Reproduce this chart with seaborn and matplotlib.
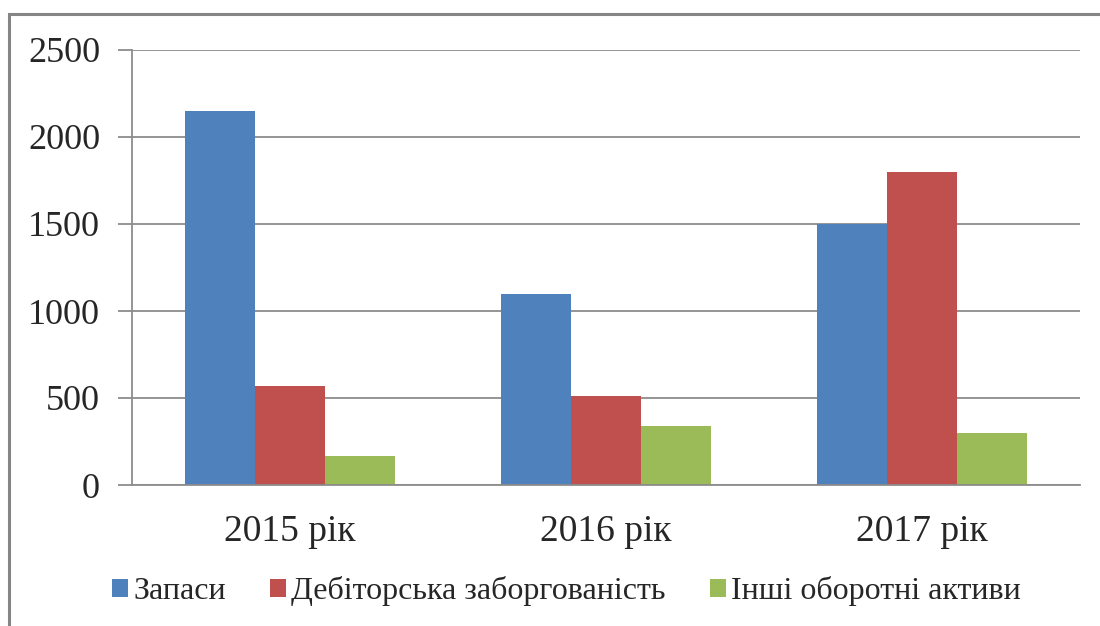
import pandas as pd
import matplotlib.pyplot as plt
import seaborn as sns
from matplotlib.patches import Patch, Rectangle

years = ['2015 рік', '2016 рік', '2017 рік']
series = ['Запаси', 'Дебіторська заборгованість', 'Інші оборотні активи']
zapasy = [2150, 1100, 1500]
debitorska = [570, 510, 1800]
inshi = [165, 340, 300]
colors = ['#4F81BD', '#C0504D', '#9BBB59']

df = pd.DataFrame({
    'year': years * 3,
    'series': [series[0]] * 3 + [series[1]] * 3 + [series[2]] * 3,
    'value': zapasy + debitorska + inshi,
})

sns.set_style('white')
plt.rcParams['font.family'] = ['Liberation Serif', 'DejaVu Serif']

fig = plt.figure(figsize=(11, 6.26), dpi=100)
ax = fig.add_axes([132 / 1100, 1 - 485 / 626, (1080 - 132) / 1100, (485 - 50) / 626])

sns.barplot(data=df, x='year', y='value', hue='series', order=years,
            hue_order=series, palette=colors, width=0.665, saturation=1,
            edgecolor='none', legend=False, ax=ax)

grid_c = '#8C8C8C'
ax.set_ylim(0, 2500)
ax.set_xlim(-0.5, 2.5)
ax.set_yticks(range(0, 2501, 500))
ax.yaxis.grid(True, color=grid_c, linewidth=1.3)
ax.set_axisbelow(True)
ax.set_xlabel('')
ax.set_ylabel('')

for s in ['top', 'right']:
    ax.spines[s].set_visible(False)
for s in ['left', 'bottom']:
    ax.spines[s].set_color(grid_c)
    ax.spines[s].set_linewidth(1.3)

ax.set_xticks([-0.5, 0.5, 1.5, 2.5], minor=True)
ax.tick_params(axis='x', which='major', length=0, labelsize=27, pad=21)
ax.tick_params(axis='x', which='minor', length=10, width=1.3, color=grid_c)
ax.tick_params(axis='y', length=10, width=1.3, color=grid_c, labelsize=26, pad=13,
               left=True)

# outer chart frame (only top and left edges fall inside the image)
fig.patches.append(Rectangle((9 / 1100, -0.2), 1.3, 1.2 - 14 / 626,
                             transform=fig.transFigure, fill=False,
                             edgecolor='#858585', linewidth=2.2))

handles = [Patch(facecolor=c, edgecolor='none') for c in colors]
fig.legend(handles, series, loc='center', bbox_to_anchor=(0.515, 1 - 591 / 626),
           ncol=3, frameon=False, fontsize=23, handlelength=0.5,
           handleheight=0.5, handletextpad=0.15, columnspacing=1.4)

fig.savefig('out.png', dpi=100)
